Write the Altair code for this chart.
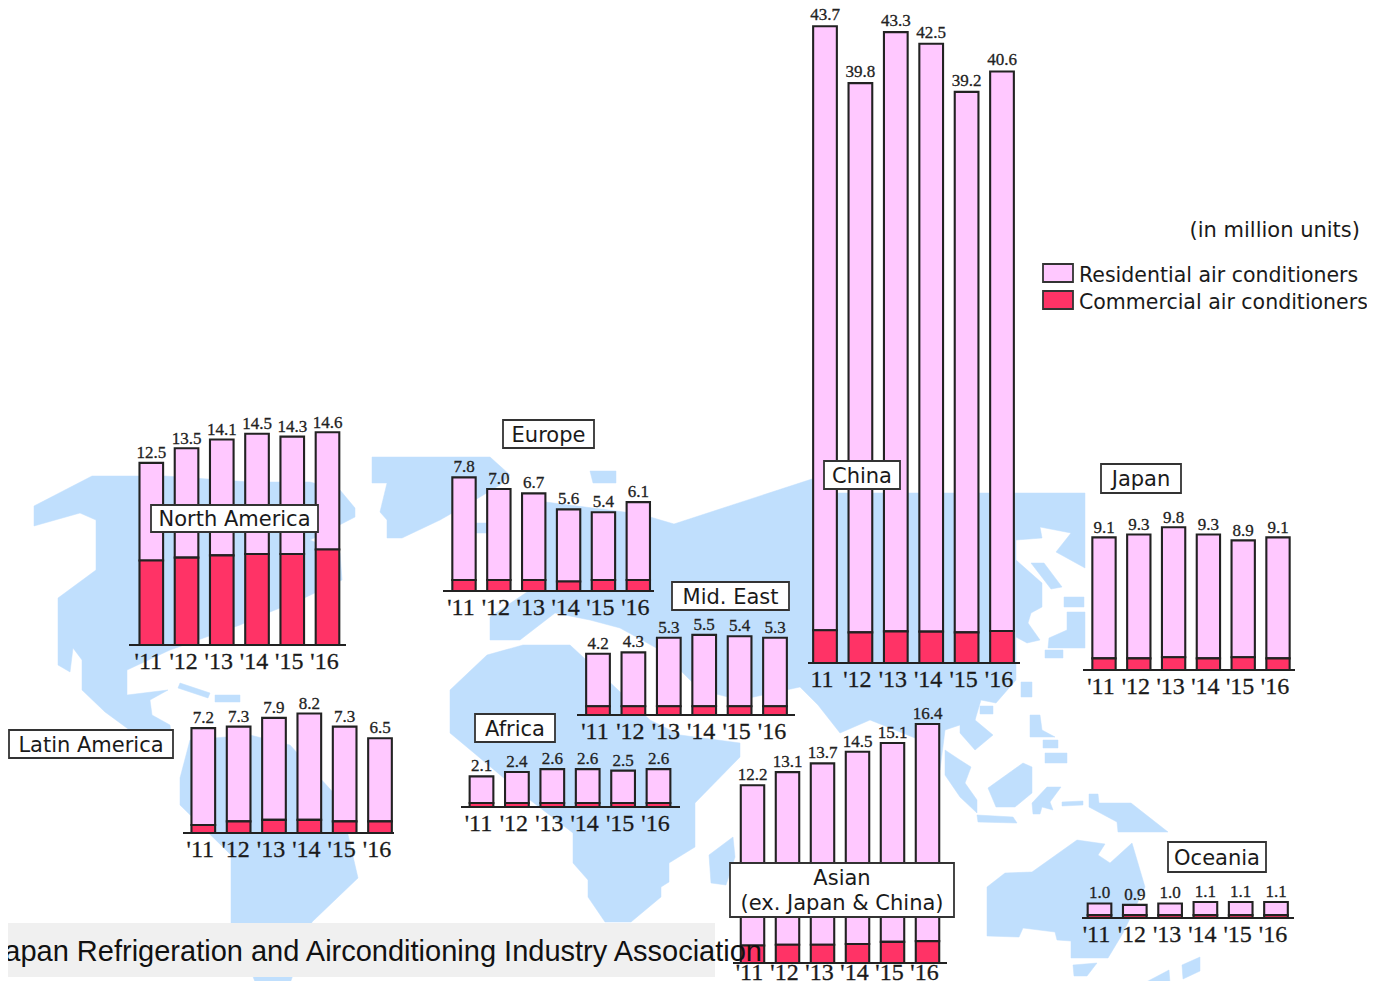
import altair as alt
import pandas as pd

OX, OY = 8, 8
W, H = 1359, 973
PX_PER_UNIT = 14.57
YEARS = ["'11", "'12", "'13", "'14", "'15", "'16"]

NA_TOTAL = [12.5, 13.5, 14.1, 14.5, 14.3, 14.6]
NA_COMM = [5.8, 6.0, 6.15, 6.25, 6.25, 6.55]
LA_TOTAL = [7.2, 7.3, 7.9, 8.2, 7.3, 6.5]
LA_COMM = [0.55, 0.8, 0.9, 0.9, 0.8, 0.8]
EU_TOTAL = [7.8, 7.0, 6.7, 5.6, 5.4, 6.1]
EU_COMM = [0.75, 0.75, 0.75, 0.65, 0.75, 0.75]
ME_TOTAL = [4.2, 4.3, 5.3, 5.5, 5.4, 5.3]
ME_COMM = [0.6, 0.6, 0.6, 0.6, 0.6, 0.6]
AF_TOTAL = [2.1, 2.4, 2.6, 2.6, 2.5, 2.6]
AF_COMM = [0.27, 0.27, 0.27, 0.27, 0.27, 0.27]
AS_TOTAL = [12.2, 13.1, 13.7, 14.5, 15.1, 16.4]
AS_COMM = [1.2, 1.25, 1.25, 1.3, 1.45, 1.5]
CN_TOTAL = [43.7, 39.8, 43.3, 42.5, 39.2, 40.6]
CN_COMM = [2.25, 2.1, 2.17, 2.15, 2.1, 2.2]
JP_TOTAL = [9.1, 9.3, 9.8, 9.3, 8.9, 9.1]
JP_COMM = [0.8, 0.8, 0.87, 0.8, 0.87, 0.8]
OC_TOTAL = [1.0, 0.9, 1.0, 1.1, 1.1, 1.1]
OC_COMM = [0.2, 0.2, 0.2, 0.2, 0.2, 0.2]

# name, totals, commercial, first bar centre, last bar centre, baseline, axis left, axis right, tick drop, value gap
PANELS = [
    ("North America", NA_TOTAL, NA_COMM, 151.3, 327.5, 645, 129, 346, 24, -4.5),
    ("Latin America", LA_TOTAL, LA_COMM, 203.3, 380, 833, 183, 394, 24, -5),
    ("Europe", EU_TOTAL, EU_COMM, 464, 638.3, 591, 443, 654, 24, -5),
    ("Mid. East", ME_TOTAL, ME_COMM, 598, 775, 715, 577, 795, 24, -5),
    ("Africa", AF_TOTAL, AF_COMM, 481.5, 658.5, 807, 461, 680, 24, -5),
    ("Asian", AS_TOTAL, AS_COMM, 752.5, 927.5, 963, 733, 947, 17, -5),
    ("China", CN_TOTAL, CN_COMM, 825, 1002, 663, 808, 1020, 24, -6),
    ("Japan", JP_TOTAL, JP_COMM, 1104, 1278, 670, 1083, 1295, 24, -4),
    ("Oceania", OC_TOTAL, OC_COMM, 1099.5, 1276, 918, 1082, 1294, 24, -5),
]

# label box: lines, x0, x1, y0, y1
BOXES = [
    (["North America"], 151, 318, 505, 532),
    (["Latin America"], 9, 173, 730, 758),
    (["Europe"], 503, 594, 420, 448),
    (["Mid. East"], 672, 789, 582, 610),
    (["Africa"], 475, 555, 714, 742),
    (["Asian", "(ex. Japan & China)"], 730, 954, 863, 917),
    (["China"], 824, 900, 461, 489),
    (["Japan"], 1101, 1181, 464, 493),
    (["Oceania"], 1168, 1266, 842, 872),
]

LEGEND_LABELS = ["Residential air conditioners", "Commercial air conditioners"]
COLORS = ["#FFC8FF", "#FF3366"]
MAP_COLOR = "#C0DFFD"
STROKE = "#222222"
SOURCE = "Japan Refrigeration and Airconditioning Industry Association"
UNITS = "(in million units)"
LABEL_FONT = "DejaVu Sans"
NUM_FONT = "Liberation Serif"

LAND = [
    # North America
    [(34,506),(92,476),(165,476),(250,482),(310,482),(340,490),(355,508),(355,517),(320,535),(310,540),(340,553),(342,580),(300,600),(270,612),(240,625),(170,650),(127,670),(127,695),(168,690),(150,700),(152,715),(170,725),(172,740),(150,745),(105,712),(82,690),(82,660),(73,648),(70,672),(58,665),(58,598),(96,570),(96,520),(80,513),(34,526)],
    [(180,683),(210,693),(208,698),(178,688)],
    [(215,695),(240,695),(240,702),(215,702)],
    # South America
    [(190,740),(250,735),(290,745),(340,800),(358,878),(312,922),(288,989),(258,989),(231,923),(231,855),(180,805),(180,778)],
    # Greenland and island
    [(372,457),(490,457),(510,475),(500,485),(475,500),(440,520),(402,538),(387,538),(387,520),(380,512),(387,483),(372,483)],
    [(590,471),(616,471),(616,483),(593,483)],
    [(475,523),(487,523),(487,533),(475,533)],
    # Eurasia
    [(530,500),(640,514),(674,524),(815,478),(835,493),(1016,493),(1085,493),(1085,568),(1056,552),(1071,533),(1040,527),(1042,538),(1016,540),(1016,560),(1042,583),(1042,607),(1031,613),(1028,623),(1040,640),(1027,643),(1016,637),(1016,680),(996,703),(981,700),(975,720),(945,730),(940,770),(920,740),(870,720),(840,733),(818,705),(800,687),(740,700),(700,690),(660,650),(620,628),(590,620),(555,613),(520,640),(490,640),(490,617),(530,590),(540,570),(530,530)],
    # Africa and Madagascar
    [(450,733),(450,690),(487,655),(523,645),(570,645),(583,657),(650,720),(680,735),(740,743),(740,757),(695,803),(695,847),(669,863),(669,882),(661,887),(661,897),(631,922),(605,922),(588,897),(588,880),(573,863),(573,833),(530,800),(474,753)],
    [(709,855),(733,837),(735,857),(726,885),(711,883)],
    # South-East Asia and islands
    [(960,733),(975,750),(993,735),(975,720),(975,700),(960,720)],
    [(945,750),(960,760),(971,767),(965,783),(977,800),(977,813),(960,797),(945,775)],
    [(988,788),(1023,763),(1032,767),(1032,793),(1015,807),(996,807)],
    [(977,815),(1013,817),(1017,823),(978,822)],
    [(1032,803),(1047,787),(1061,787),(1050,802),(1053,810),(1042,807),(1040,814),(1033,814)],
    [(1062,802),(1083,801),(1083,805),(1062,806)],
    [(1089,794),(1098,794),(1099,803),(1131,803),(1168,832),(1118,832),(1117,822),(1089,807)],
    [(1030,715),(1040,715),(1042,730),(1055,737),(1030,737)],
    [(1043,740),(1058,740),(1058,748),(1043,748)],
    [(1045,753),(1067,753),(1067,763),(1045,763)],
    [(980,706),(993,706),(993,714),(980,714)],
    # Australia, New Zealand
    [(987,887),(1005,873),(1032,872),(1077,840),(1105,844),(1098,855),(1110,863),(1132,843),(1145,887),(1123,933),(1108,958),(1071,958),(1071,941),(1057,940),(1055,932),(1023,928),(1019,937),(987,936)],
    [(1073,965),(1097,963),(1087,976),(1074,976)],
    [(1182,965),(1200,957),(1200,971),(1183,979)],
    [(1133,989),(1169,970),(1170,983),(1157,989)],
    # Japan region
    [(1031,563),(1044,563),(1062,587),(1051,589)],
    [(1064,597),(1084,597),(1084,607),(1064,607)],
    [(1067,612),(1085,612),(1085,648),(1048,648),(1049,638),(1067,630)],
    [(1021,682),(1032,682),(1032,697),(1021,697)],
    [(1045,650),(1063,650),(1063,658),(1045,658)],
]


def feature(poly):
    ring = [[x - OX, y - OY] for x, y in poly]
    ring.append(ring[0])
    return {"type": "Feature", "properties": {}, "geometry": {"type": "Polygon", "coordinates": [ring]}}


land = (
    alt.Chart(alt.Data(values=[feature(p) for p in LAND]))
    .mark_geoshape(fill=MAP_COLOR, stroke=MAP_COLOR, strokeWidth=0.5)
    .project(type="identity", scale=1, translate=[0, 0], reflectY=False)
)


def px(v):
    return v - OX


def py(v):
    return v - OY


def rect(x0, x1, y0, y1, fill, stroke=None, sw=0):
    kw = dict(fill=fill)
    if stroke:
        kw.update(stroke=stroke, strokeWidth=sw)
    return alt.Chart(pd.DataFrame({"a": [0]})).mark_rect(**kw).encode(
        x=alt.value(px(x0)), x2=alt.value(px(x1)), y=alt.value(py(y0)), y2=alt.value(py(y1))
    )


def label(s, x, y, size, align="center", font=LABEL_FONT, color="#1a1a1a"):
    return alt.Chart(pd.DataFrame({"t": [s]})).mark_text(
        font=font, fontSize=size, align=align, baseline="middle", color=color
    ).encode(x=alt.value(px(x)), y=alt.value(py(y)), text="t:N")


def panel(name, total, comm, c0, c5, base, ax0, ax1, drop, gap):
    step = (c5 - c0) / 5
    ticks = list(YEARS)
    if name == "China":
        ticks[0] = "11"
    df = pd.DataFrame({
        "year": YEARS, "tick": ticks, "total": total, "comm": comm, "zero": [0] * 6,
        "lab": [f"{v:.1f}" for v in total],
    })
    xs = alt.Scale(domain=YEARS, range=[px(c0 - step / 2), px(c5 + step / 2)], paddingInner=0.33, paddingOuter=0.165)
    ys = alt.Scale(domain=[0, 50], range=[py(base), py(base - PX_PER_UNIT * 50)], nice=False)
    X = alt.X("year:N", scale=xs, axis=None, sort=YEARS, title=None)
    Y = lambda f: alt.Y(f, type="quantitative", scale=ys, axis=None, title=None)
    base_ch = alt.Chart(df)
    res = base_ch.mark_bar(fill=COLORS[0], stroke=STROKE, strokeWidth=2.1).encode(x=X, y=Y("total"), y2=alt.Y2("comm"))
    com = base_ch.mark_bar(fill=COLORS[1], stroke=STROKE, strokeWidth=2.1).encode(x=X, y=Y("comm"), y2=alt.Y2("zero"))
    axis = base_ch.mark_rule(color="#222222", strokeWidth=1.8).encode(
        x=alt.value(px(ax0)), x2=alt.value(px(ax1)), y=Y("zero")
    )
    vals = base_ch.mark_text(font=NUM_FONT, fontSize=17, baseline="alphabetic", dy=gap, color="#222222",
                             stroke="#222222", strokeWidth=0.3).encode(
        x=X, y=Y("total"), text="lab:N"
    )
    tk = base_ch.mark_text(font=NUM_FONT, fontSize=24, baseline="alphabetic", dx=-3, color="#1a1a1a",
                           stroke="#1a1a1a", strokeWidth=0.3).encode(
        x=X, y=alt.value(py(base + drop)), text="tick:N"
    )
    return alt.layer(res, com, axis, vals, tk)


panels = [panel(*p) for p in PANELS]

boxes = []
for lines, x0, x1, y0, y1 in BOXES:
    boxes.append(rect(x0, x1, y0, y1, "white", "#333333", 1.8))
    cx = (x0 + x1) / 2
    if len(lines) == 1:
        boxes.append(label(lines[0], cx, (y0 + y1) / 2 + 1.5, 21))
    else:
        boxes.append(label(lines[0], cx, y0 + 15.5, 21))
        boxes.append(label(lines[1], cx, y0 + 40.5, 21))

legend = [
    label(UNITS, 1360, 231, 21, align="right"),
    rect(1043, 1073, 264, 282, COLORS[0], "#333333", 1.8),
    rect(1043, 1073, 291, 309, COLORS[1], "#333333", 1.8),
    label(LEGEND_LABELS[0], 1079, 275.5, 20.5, align="left"),
    label(LEGEND_LABELS[1], 1079, 302.5, 20.5, align="left"),
]

footer_box = rect(0, 715, 923, 977, "#F0F0F0")
footer_text = label(SOURCE, 762, 952, 29, align="right", font="Liberation Sans", color="#111111")

chart = (
    alt.layer(land, footer_box, *panels, *boxes, *legend, footer_text)
    .resolve_scale(x="independent", y="independent")
    .properties(width=W, height=H, padding=0, autosize=alt.AutoSizeParams(type="none"))
    .configure_view(stroke=None)
)

chart.save("out.html", embed_options={"renderer": "svg", "actions": False})
